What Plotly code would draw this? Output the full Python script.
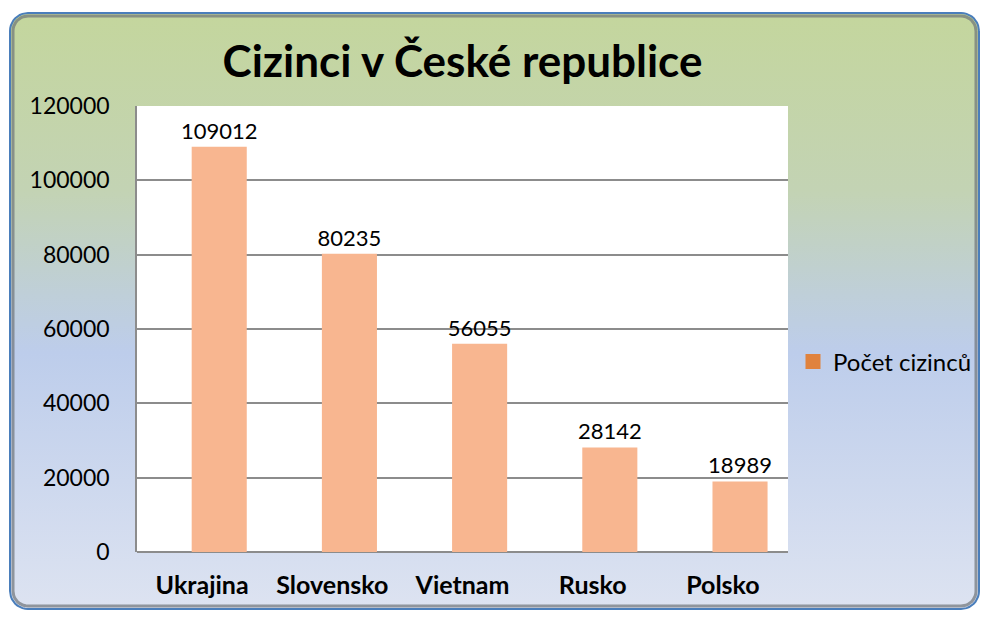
import math
import plotly.graph_objects as go

# ---- data ----
categories = ["Ukrajina", "Slovensko", "Vietnam", "Rusko", "Polsko"]
values = [109012, 80235, 56055, 28142, 18989]
series_name = "Počet cizinců"
title_text = "Cizinci v České republice"
y_ticks = [0, 20000, 40000, 60000, 80000, 100000, 120000]

# ---- layout constants (pixels) ----
W, H = 981, 622
PL, PR, PT, PB = 137, 788, 106, 552  # plot area
FONT = "Lato"
BAR = "#F8B690"
LEG = "#E0823D"
BAR_W, BAR_OFF = 0.423, -0.08  # bars sit slightly right of the category centre


def rr(x0, y0, x1, y1, r, n=10):
    pts = []
    corners = [(x1 - r, y1 - r, 0), (x0 + r, y1 - r, 90), (x0 + r, y0 + r, 180), (x1 - r, y0 + r, 270)]
    for cx, cy, a0 in corners:
        for i in range(n + 1):
            a = math.radians(a0 + 90 * i / n)
            pts.append((cx + r * math.cos(a), cy + r * math.sin(a)))
    pts.append(pts[0])
    return [p[0] for p in pts], [p[1] for p in pts]


fig = go.Figure()

# background frame (figure pixel axes, y up)
FX0, FX1, FY0, FY1 = 10, 979, 13, 609
fx, fy = rr(FX0, H - FY1, FX1, H - FY0, 18)
top_down = [(0.0, "#C4D69D"), (0.3, "#C3D3B4"), (0.47, "#BFCFD8"), (0.57, "#BDCDEB"), (1.0, "#DDE3F1")]
cs = sorted([[1 - f, c] for f, c in top_down])
fig.add_trace(go.Scatter(x=fx, y=fy, mode="lines", fill="toself",
                         fillgradient=dict(type="vertical", colorscale=cs, start=H - FY1, stop=H - FY0),
                         line=dict(color="#4A7EBB", width=2), hoverinfo="skip", showlegend=False,
                         xaxis="x", yaxis="y"))
ix, iy = rr(FX0 + 3, H - FY1 + 3, FX1 - 3, H - FY0 - 3, 15)
fig.add_trace(go.Scatter(x=ix, y=iy, mode="lines", line=dict(color="rgba(110,115,120,0.7)", width=3),
                         hoverinfo="skip", showlegend=False, xaxis="x", yaxis="y"))
# white plot area
fig.add_trace(go.Scatter(x=[PL, PR, PR, PL, PL], y=[H - PB, H - PB, H - PT, H - PT, H - PB], mode="lines",
                         fill="toself", fillcolor="white", line=dict(width=0), hoverinfo="skip",
                         showlegend=False, xaxis="x", yaxis="y"))

# bars
fig.add_trace(go.Bar(x=categories, y=values, marker=dict(color=BAR, line=dict(width=0)),
                     width=BAR_W, offset=BAR_OFF,
                     text=[str(v) for v in values], textposition="outside", cliponaxis=False,
                     constraintext="none",
                     textfont=dict(family=FONT, size=22, color="black"),
                     showlegend=False, hoverinfo="skip", xaxis="x2", yaxis="y2"))
# legend entry
fig.add_trace(go.Scatter(x=[None], y=[None], name=series_name, mode="markers",
                         marker=dict(color=LEG, symbol="square", size=15),
                         showlegend=True, xaxis="x2", yaxis="y2"))

fig.update_layout(
    width=W, height=H,
    margin=dict(l=0, r=0, t=0, b=0, autoexpand=False),
    paper_bgcolor="white", plot_bgcolor="rgba(0,0,0,0)",
    xaxis=dict(domain=[0, 1], range=[0, W], visible=False, fixedrange=True, automargin=False),
    yaxis=dict(domain=[0, 1], range=[0, H], visible=False, fixedrange=True, automargin=False),
    xaxis2=dict(domain=[PL / W, PR / W], anchor="y2", showgrid=False, showline=False,
                range=[-0.5, len(categories) - 0.5],
                tickfont=dict(family=FONT, size=25, color="black", weight="bold"),
                ticks="", ticklabelstandoff=16, fixedrange=True, automargin=False),
    yaxis2=dict(domain=[1 - PB / H, 1 - PT / H], anchor="x2", range=[0, 120000],
                tickvals=y_ticks, ticktext=[str(t) for t in y_ticks],
                showgrid=True, gridcolor="#8C8C8C", gridwidth=1.5,
                showline=True, linecolor="#8C8C8C", linewidth=1.5, mirror=False,
                zeroline=True, zerolinecolor="#8C8C8C", zerolinewidth=1.5,
                tickfont=dict(family=FONT, size=23, color="black"),
                ticks="", ticklabelstandoff=21, fixedrange=True, automargin=False),
    title=dict(text=title_text, x=(PL + PR) / 2 / W, xanchor="center", y=1 - 62 / H, yanchor="middle",
               font=dict(family=FONT, size=44, color="black", weight="bold")),
    legend=dict(x=793 / W, xanchor="left", y=1 - 362 / H, yanchor="middle",
                font=dict(family=FONT, size=24, color="black"), bgcolor="rgba(0,0,0,0)",
                tracegroupgap=0),
    hovermode=False,
    font=dict(family=FONT),
)

fig.write_html("out.html", config={"displayModeBar": False},
               post_script="document.body.style.margin='0';document.body.style.overflow='hidden';")
